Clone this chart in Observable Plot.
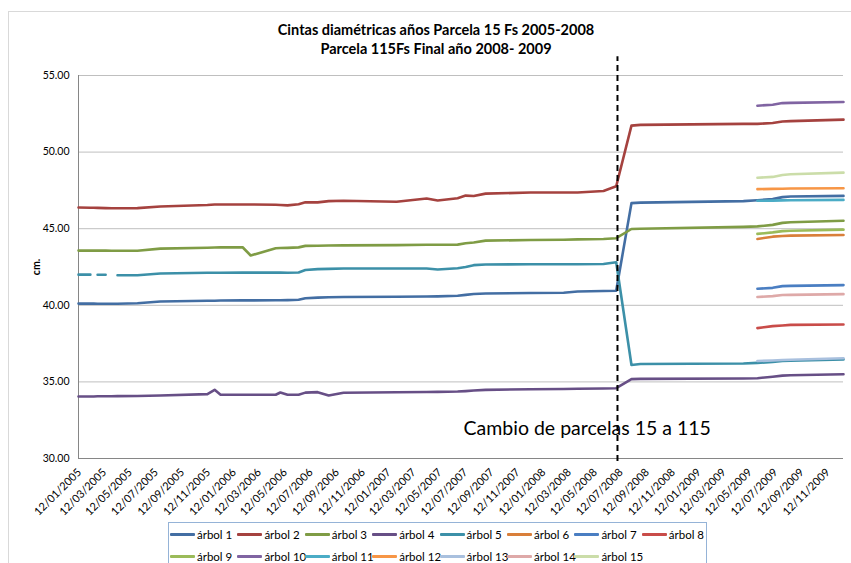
<!DOCTYPE html>
<html>
<head>
<meta charset="utf-8">
<script src="https://cdn.jsdelivr.net/npm/d3@7"></script>
<script src="https://cdn.jsdelivr.net/npm/@observablehq/plot@0.6"></script>
<style>
  html, body { margin: 0; padding: 0; background: #fff; }
  #wrap { position: relative; width: 851px; height: 563px; overflow: hidden; font-family: Lato, "Open Sans", sans-serif; }
  #frame { position: absolute; left: 8px; top: 11px; width: 860px; height: 570px; border: 1px solid #D9D9D9; box-sizing: border-box; }
  #title { position: absolute; top: 20px; left: 0; width: 872px; text-align: center; font-weight: bold; font-size: 14.5px; line-height: 19px; color: #000; }
  #chart { position: absolute; left: 0; top: 0; }
  #legend { position: absolute; left: 168px; top: 522px; width: 539px; height: 60px; border: 1px solid #95B3D7; box-sizing: border-box; background: #fff; }
  .item { position: absolute; height: 14px; display: flex; align-items: center; font-size: 11.5px; color: #000; white-space: nowrap; }
  .sw { width: 25px; height: 3px; margin-right: 2px; border-radius: 1px; }
  [aria-label="y-axis label"] text { font-weight: bold; }
</style>
</head>
<body>
<div id="wrap">
  <div id="frame"></div>
  <div id="chart"></div>
  <div id="title"></div>
  <div id="legend"></div>
</div>
<script>
// ---------- data ----------
const titleLines = ["Cintas diamétricas años Parcela 15 Fs 2005-2008", "Parcela 115Fs Final año 2008- 2009"];
const yLabel = "cm.";
const yTicks = [30, 35, 40, 45, 50, 55];
const xTickLabels = [
  "12/01/2005","12/03/2005","12/05/2005","12/07/2005","12/09/2005","12/11/2005",
  "12/01/2006","12/03/2006","12/05/2006","12/07/2006","12/09/2006","12/11/2006",
  "12/01/2007","12/03/2007","12/05/2007","12/07/2007","12/09/2007","12/11/2007",
  "12/01/2008","12/03/2008","12/05/2008","12/07/2008","12/09/2008","12/11/2008",
  "12/01/2009","12/03/2009","12/05/2009","12/07/2009","12/09/2009","12/11/2009"
];
const xDomain = ["2005-01-12", "2009-12-21"];

const seriesNames = ["árbol 1","árbol 2","árbol 3","árbol 4","árbol 5","árbol 6","árbol 7","árbol 8",
  "árbol 9","árbol 10","árbol 11","árbol 12","árbol 13","árbol 14","árbol 15"];
const seriesColors = ["#436EA3","#A5423F","#7F9C45","#674F86","#3C90A8","#D97F3A","#4A7EC2","#C94C49",
  "#9BBB59","#8064A2","#4BACC6","#F79646","#A9C0DE","#DEA9A8","#CBDDA9"];

// measurement dates (series 1-5)
const dates = [
  "2005-01-12","2005-02-09","2005-02-17","2005-02-26","2005-03-17","2005-03-31","2005-04-14","2005-05-31",
  "2005-07-24","2005-11-12","2005-11-29","2005-12-13","2006-02-03","2006-02-22","2006-04-22","2006-05-03",
  "2006-05-20","2006-06-15","2006-07-01","2006-07-30","2006-08-25","2006-09-29","2007-02-01","2007-04-13",
  "2007-05-09","2007-06-25","2007-07-14","2007-08-02","2007-08-30","2007-12-14","2008-03-01","2008-04-03",
  "2008-06-03","2008-07-03","2008-08-08","2008-08-29","2009-04-29","2009-06-01","2009-07-07","2009-07-30",
  "2009-08-18","2009-12-21"
];
const arbol1 = [40.11,40.11,40.11,40.10,40.10,40.10,40.10,40.13,40.25,40.30,40.30,40.31,40.32,40.32,40.33,40.33,
  40.34,40.36,40.46,40.50,40.53,40.54,40.56,40.57,40.58,40.62,40.68,40.74,40.77,40.80,40.82,40.90,
  40.93,40.95,46.67,46.70,46.80,46.86,46.93,47.06,47.10,47.14];
const arbol2 = [46.38,46.37,46.37,46.36,46.34,46.33,46.33,46.34,46.45,46.55,46.58,46.58,46.58,46.58,46.56,46.55,
  46.52,46.60,46.72,46.72,46.80,46.82,46.76,46.97,46.84,46.99,47.16,47.13,47.29,47.36,47.36,47.36,
  47.46,47.77,51.73,51.78,51.84,51.84,51.90,52.00,52.02,52.12];
const arbol3 = [43.57,43.57,43.57,43.57,43.57,43.56,43.56,43.56,43.70,43.76,43.77,43.78,43.79,43.25,43.72,43.74,
  43.75,43.78,43.88,43.89,43.90,43.91,43.93,43.95,43.95,43.96,44.05,44.10,44.22,44.26,44.28,44.30,
  44.33,44.38,44.98,45.00,45.12,45.15,45.25,45.38,45.42,45.52];
const arbol4 = [34.05,34.05,34.05,34.06,34.06,34.06,34.07,34.08,34.11,34.20,34.48,34.16,34.16,34.16,34.16,34.31,
  34.16,34.16,34.30,34.33,34.11,34.29,34.32,34.34,34.35,34.37,34.40,34.44,34.48,34.52,34.54,34.55,
  34.57,34.59,35.18,35.20,35.22,35.24,35.34,35.41,35.43,35.50];
const arbol5 = [42.00,42.00,null,41.99,41.99,null,41.96,41.96,42.08,42.12,42.12,42.12,42.13,42.13,42.13,42.13,
  42.12,42.14,42.30,42.36,42.38,42.40,42.40,42.40,42.34,42.42,42.50,42.62,42.66,42.68,42.68,42.68,
  42.70,42.81,36.10,36.17,36.20,36.24,36.30,36.36,36.38,36.47];

// measurement dates for the trees added in parcela 115 (series 6-15)
const lateDates = ["2009-06-01","2009-07-07","2009-07-30","2009-08-18","2009-12-21"];
const arbol6  = [44.33,44.48,44.52,44.55,44.59];
const arbol7  = [41.08,41.14,41.25,41.27,41.32];
const arbol8  = [38.51,38.64,38.68,38.72,38.75];
const arbol9  = [44.66,44.76,44.84,44.87,44.94];
const arbol10 = [53.03,53.09,53.20,53.21,53.27];
const arbol11 = [46.82,46.83,46.85,46.86,46.88];
const arbol12 = [47.58,47.60,47.61,47.62,47.64];
const arbol13 = [36.36,36.40,36.43,36.45,36.54];
const arbol14 = [40.54,40.60,40.67,40.68,40.73];
const arbol15 = [48.33,48.38,48.50,48.55,48.66];

// plot change marker and annotation
const changeDate = "2008-07-06";
const changeTop = 56.23;
const annotation = { date: "2007-07-09", value: 31.56, text: "Cambio de parcelas 15 a 115" };

// ---------- build ----------
const pd = d3.utcParse("%Y-%m-%d");
const pt = d3.utcParse("%d/%m/%Y");
const early = [arbol1, arbol2, arbol3, arbol4, arbol5];
const late = [arbol6, arbol7, arbol8, arbol9, arbol10, arbol11, arbol12, arbol13, arbol14, arbol15];
const rows = [];
early.forEach((vals, s) => vals.forEach((v, i) => rows.push({ series: seriesNames[s], date: pd(dates[i]), value: v })));
late.forEach((vals, s) => vals.forEach((v, i) => rows.push({ series: seriesNames[s + 5], date: pd(lateDates[i]), value: v })));

const tickDates = xTickLabels.map(pt);
const x0 = pd(xDomain[0]);

const chart = Plot.plot({
  width: 851,
  height: 563,
  marginLeft: 78,
  marginRight: 8,
  marginTop: 75,
  marginBottom: 105,
  style: { fontFamily: "Lato, 'Open Sans', sans-serif", background: "transparent", color: "#000", overflow: "visible" },
  x: { type: "utc", domain: xDomain.map(pd) },
  y: { domain: [30, 55] },
  color: { type: "ordinal", domain: seriesNames, range: seriesColors },
  marks: [
    Plot.gridY(yTicks, { stroke: "#BFBFBF", strokeOpacity: 1 }),
    Plot.axisY(yTicks, { tickSize: 0, tickPadding: 9, fontSize: 10.5, tickFormat: d => d.toFixed(2),
      label: yLabel, labelAnchor: "center", labelArrow: "none", labelOffset: 46 }),
    Plot.axisX(tickDates, { tickSize: 0, tickPadding: 12, tickRotate: -45, fontSize: 11, dx: 1,
      tickFormat: d3.utcFormat("%d/%m/%Y"), label: null }),
    Plot.ruleY([30], { stroke: "#868686" }),
    Plot.ruleX([x0], { stroke: "#868686" }),
    Plot.line(rows, { x: "date", y: "value", z: "series", stroke: "series", strokeWidth: 2.6,
      strokeLinecap: "round", strokeLinejoin: "round" }),
    Plot.ruleX([pd(changeDate)], { y1: 29.8, y2: changeTop, stroke: "#000", strokeWidth: 2, strokeDasharray: "6,4" }),
    Plot.text([annotation], { x: d => pd(d.date), y: "value", text: "text", textAnchor: "start",
      lineAnchor: "bottom", fontSize: 19.5, fill: "#000" })
  ]
});
document.getElementById("chart").appendChild(chart);

// title
document.getElementById("title").innerHTML = titleLines.map(t => `<div>${t}</div>`).join("");

// legend
const leg = document.getElementById("legend");
seriesNames.forEach((n, i) => {
  const row = i < 8 ? 0 : 1;
  const col = i < 8 ? i : i - 8;
  const el = document.createElement("div");
  el.className = "item";
  el.style.left = (1 + col * 67.4) + "px";
  el.style.top = (row === 0 ? 4 : 26) + "px";
  el.innerHTML = `<span class="sw" style="background:${seriesColors[i]}"></span><span>${n}</span>`;
  leg.appendChild(el);
});
</script>
</body>
</html>
